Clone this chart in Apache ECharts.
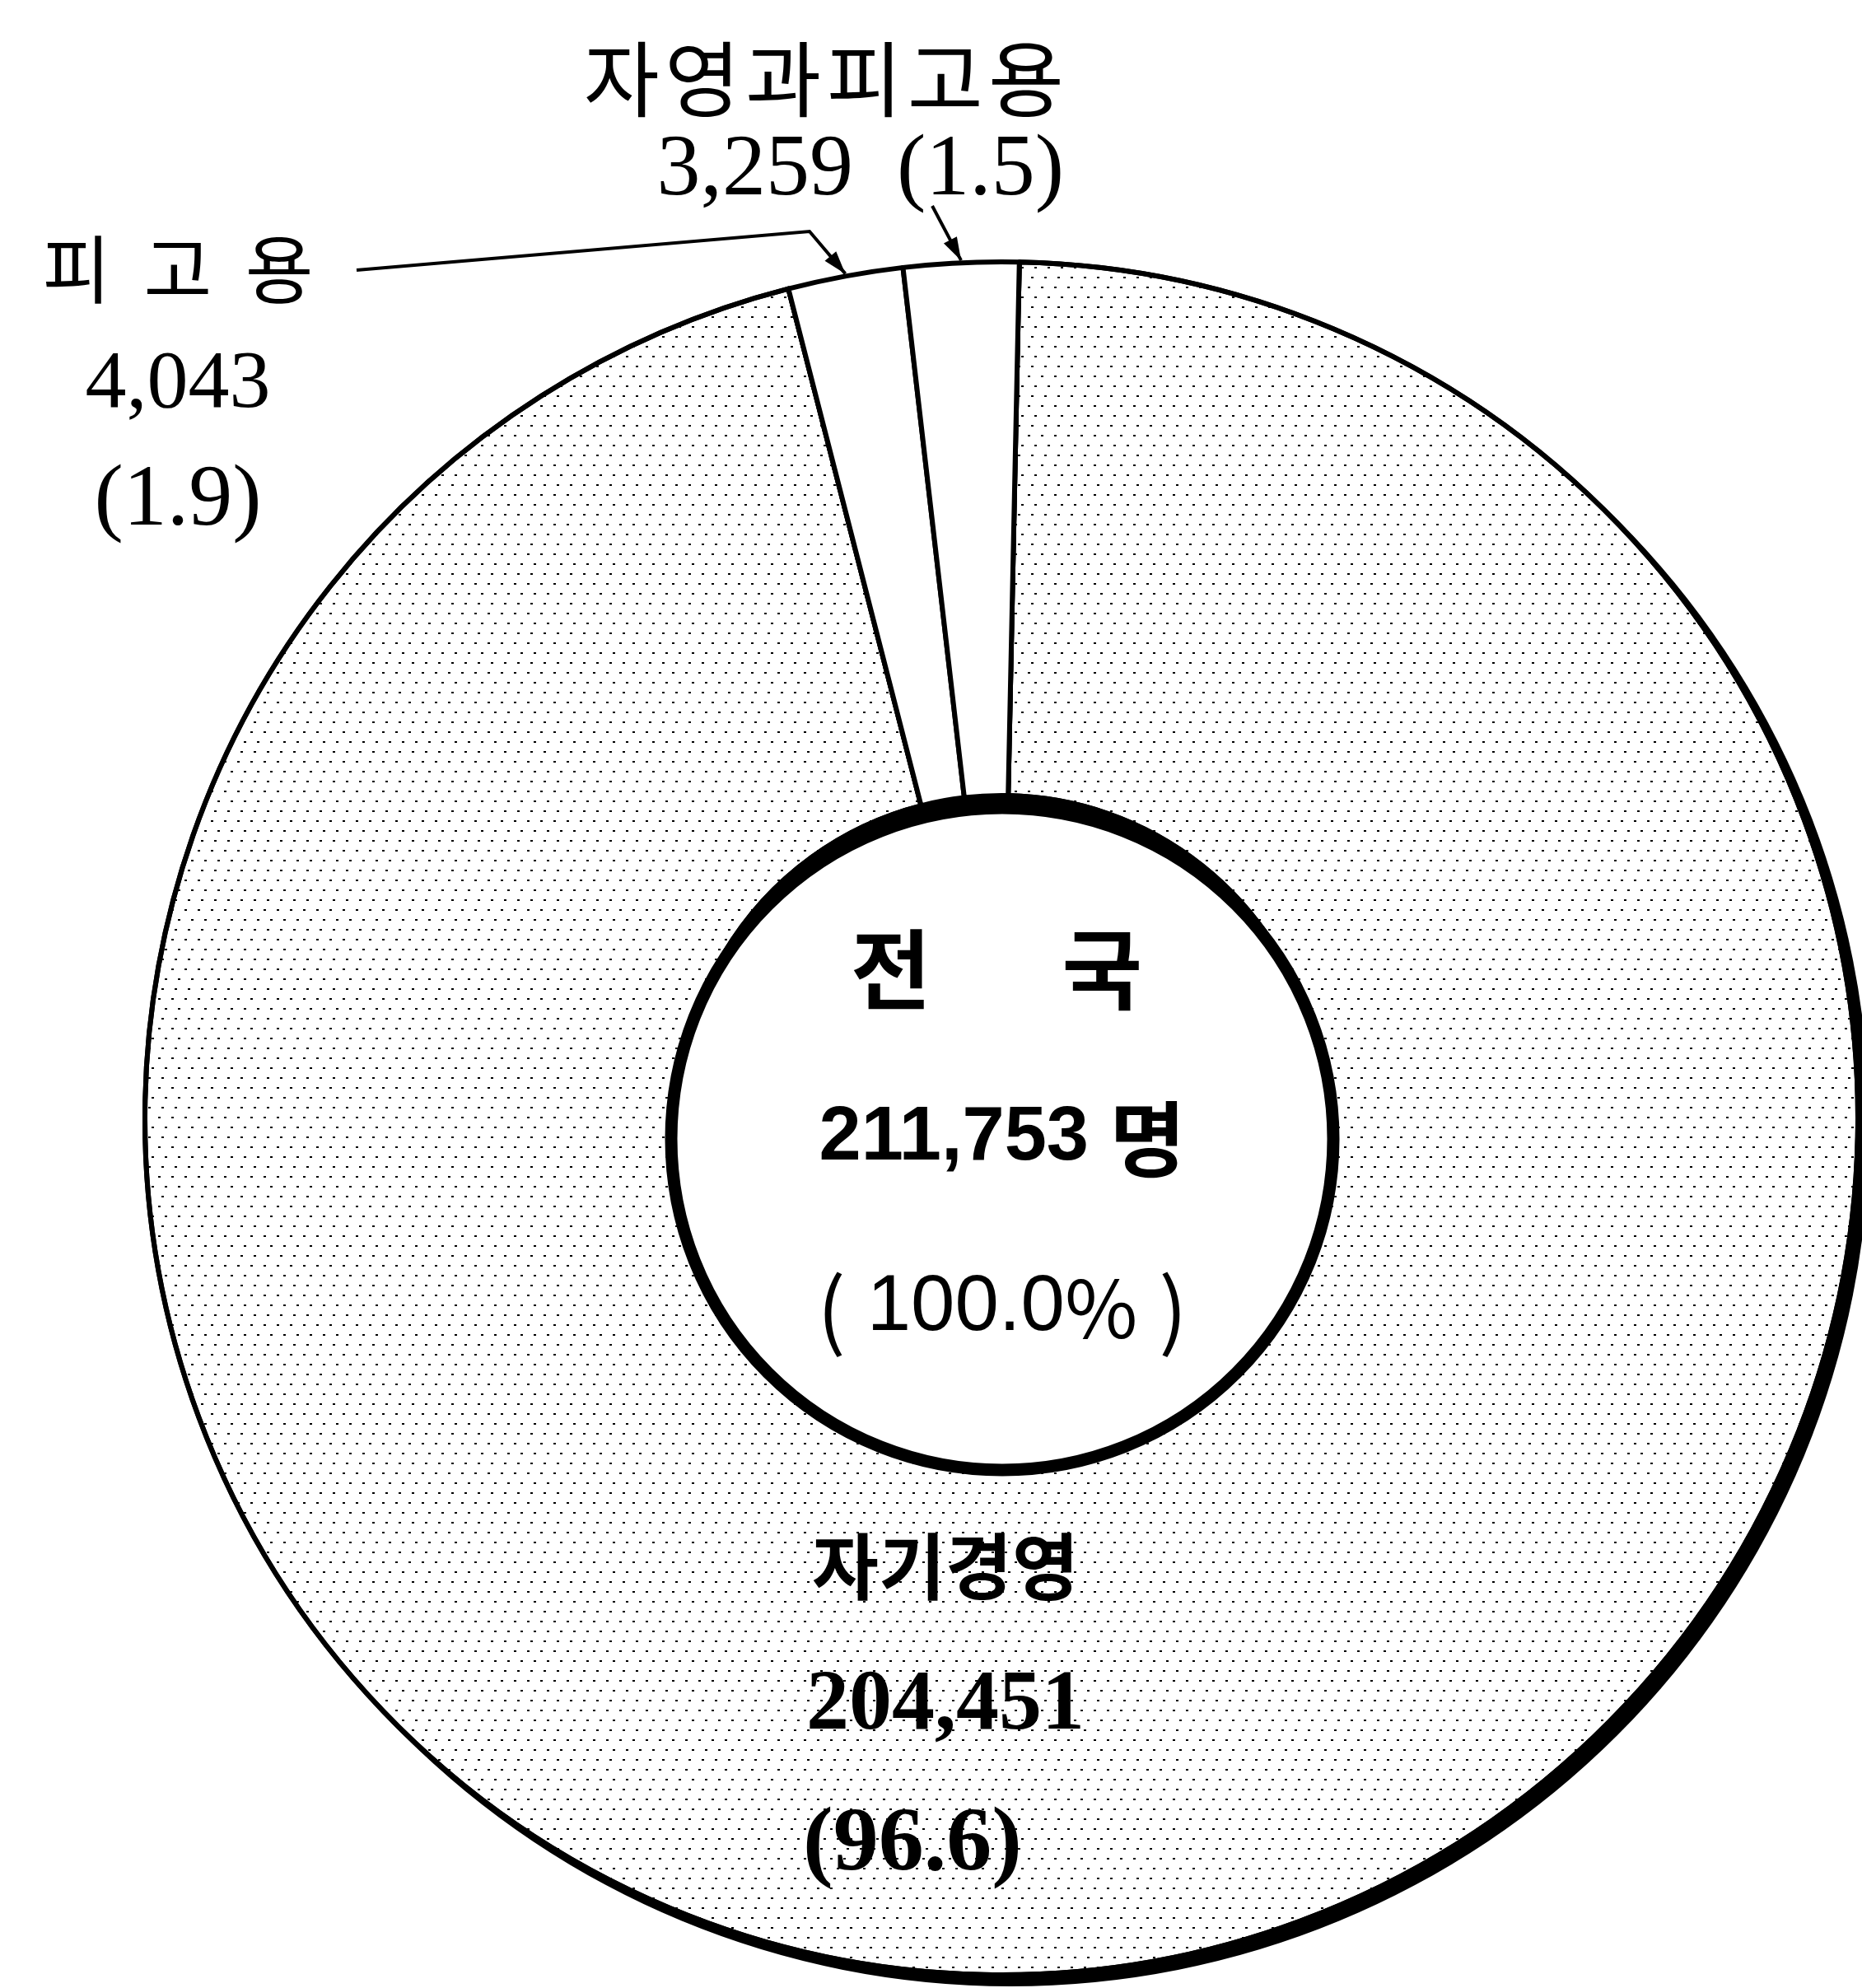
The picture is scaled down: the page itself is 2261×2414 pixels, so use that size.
<!DOCTYPE html>
<html>
<head>
<meta charset="utf-8">
<script src="https://cdn.jsdelivr.net/npm/echarts@6.0.0/dist/echarts.min.js"></script>
<style>
  html, body { margin: 0; padding: 0; background: #fff; }
  #grafico { width: 2261px; height: 2414px; }
</style>
</head>
<body>
<div id="grafico"></div>
<script>
// datos del grafico
const categorias = ['자기경영', '피고용', '자영과피고용'];
const valores = [204451, 4043, 3259];
const tituloCentro = ['전', '국'];
const unidad = '명';

(function () {
    const chart = echarts.init(document.getElementById('grafico'), null, { renderer: 'canvas' });

    const total = valores.reduce((a, b) => a + b, 0);
    const fmt = (n) => n.toLocaleString('en-US');
    const pct = (v) => (v / total * 100).toFixed(1);

    const centroAnillo = [1216, 1358];
    const radioAnillo = 1040;
    const centroDisco = [1217, 1383];
    const radioDisco = 402;

    const serif = "'Liberation Serif', 'Noto Sans CJK KR'";
    const hangul = "'Noto Sans CJK KR'";
    const sans = "'Liberation Sans', 'Noto Sans CJK KR'";

    const estilosEtiqueta = {
        nombre: { fontFamily: hangul, fontSize: 100, color: '#000', lineHeight: 113 },
        valor: { fontFamily: serif, fontSize: 106, color: '#000', lineHeight: 113 },
        nombreIzq: { fontFamily: hangul, fontSize: 90, color: '#000', lineHeight: 141 },
        valorIzq: { fontFamily: serif, fontSize: 100, color: '#000', lineHeight: 141 },
        parenIzq: { fontFamily: serif, fontSize: 106, color: '#000', lineHeight: 141 },
        nombreGrande: { fontFamily: hangul, fontSize: 88, fontWeight: 'bold', color: '#000', lineHeight: 170 },
        valorGrande: { fontFamily: serif, fontSize: 104, fontWeight: 'bold', color: '#000', lineHeight: 170 },
        parenGrande: { fontFamily: serif, fontSize: 110, fontWeight: 'bold', color: '#000', lineHeight: 170, padding: [0, 80, 0, 0] }
    };

    const formatearEtiqueta = (params) => {
        const v = params.value;
        switch (params.dataIndex) {
            case 0:
                return `{nombreGrande|${params.name}}\n{valorGrande|${fmt(v)}}\n{parenGrande|(${pct(v)})}`;
            case 1:
                return `{nombreIzq|${params.name.split('').join('  ')}}\n{valorIzq|${fmt(v)}}\n{parenIzq|(${pct(v)})}`;
            case 2:
                return `{nombre|${params.name.split('').join('\u200A')}}\n{valor|${fmt(v)}  (${pct(v)})}`;
        }
        return '';
    };

    const posicionEtiqueta = (params) => {
        switch (params.dataIndex) {
            case 0:
                return { x: 1148, y: 2072, align: 'center', verticalAlign: 'middle' };
            case 1:
                return { x: 216, y: 468, align: 'center', verticalAlign: 'middle' };
            case 2:
                return { x: 1292, y: 152, align: 'right', verticalAlign: 'middle' };
        }
        return {};
    };

    const punteado = {
        symbol: 'rect',
        symbolSize: 1,
        color: '#000',
        dashArrayX: [[3, 13], [0, 8, 3, 5], [0, 4, 3, 9]],
        dashArrayY: [2, 10]
    };

    const opciones = {
        backgroundColor: '#fff',
        animation: false,
        series: [
            {
                // sombra negra del borde exterior
                type: 'pie',
                silent: true,
                center: [centroAnillo[0] + 11, centroAnillo[1] + 11],
                radius: [0, radioAnillo + 3],
                label: { show: false },
                labelLine: { show: false },
                itemStyle: { color: '#000' },
                data: [{ value: 1 }]
            },
            {
                type: 'pie',
                silent: true,
                center: centroAnillo,
                radius: [radioDisco - 10, radioAnillo],
                startAngle: 88.8,
                clockwise: true,
                minAngle: 7.8,
                avoidLabelOverlap: false,
                itemStyle: { color: '#fff', borderColor: '#000', borderWidth: 6 },
                label: {
                    show: true,
                    position: 'inside',
                    formatter: formatearEtiqueta,
                    rich: estilosEtiqueta
                },
                labelLine: { show: false },
                labelLayout: posicionEtiqueta,
                data: categorias.map((nombre, i) => ({
                    name: nombre,
                    value: valores[i],
                    itemStyle: i === 0 ? { decal: punteado } : {}
                }))
            },
            {
                // disco central
                type: 'pie',
                silent: true,
                center: centroDisco,
                radius: [0, radioDisco],
                itemStyle: { color: '#fff', borderColor: '#000', borderWidth: 15 },
                label: {
                    show: true,
                    position: 'center',
                    formatter: () => `{a|${tituloCentro.join('\u3000\u2002')}}\n{b|${fmt(total)} }{c|${unidad}}\n{p1|(}{e|100.0}{pc|%}{p2|)}`,
                    rich: {
                        a: { fontFamily: hangul, fontSize: 106, fontWeight: 'bold', color: '#000', lineHeight: 206, padding: [0, 14, 0, 0] },
                        b: { fontFamily: sans, fontSize: 92, fontWeight: 'bold', color: '#000', lineHeight: 206 },
                        c: { fontFamily: hangul, fontSize: 100, fontWeight: 'bold', color: '#000', lineHeight: 206 },
                        p1: { fontFamily: hangul, fontSize: 102, color: '#000', lineHeight: 206, padding: [0, 26, 0, 0] },
                        p2: { fontFamily: hangul, fontSize: 102, color: '#000', lineHeight: 206, padding: [0, 0, 0, 26] },
                        pc: { fontFamily: hangul, fontSize: 96, color: '#000', lineHeight: 206 },
                        e: { fontFamily: sans, fontSize: 96, color: '#000', lineHeight: 206 }
                    }
                },
                labelLine: { show: false },
                data: [{ value: total, name: '전국' }]
            }
        ]
    };

    chart.setOption(opciones);

    // lineas guia con flecha hacia las porciones pequenas
    const dibujarGuias = () => {
        let datos = null;
        try {
            datos = chart.getModel().getSeriesByIndex(1).getData();
        } catch (e) {
            return;
        }
        const guias = [
            { indice: 1, inicio: [[433, 328], [983, 281]] },
            { indice: 2, inicio: [[1132, 250]] }
        ];
        const elementos = [];
        guias.forEach((guia) => {
            const lay = datos.getItemLayout(guia.indice);
            const ang = (lay.startAngle + lay.endAngle) / 2;
            const punta = [lay.cx + lay.r * Math.cos(ang), lay.cy + lay.r * Math.sin(ang) - 3];
            const puntos = guia.inicio.concat([punta]);
            const previo = puntos[puntos.length - 2];
            const dx = punta[0] - previo[0];
            const dy = punta[1] - previo[1];
            const largo = Math.sqrt(dx * dx + dy * dy);
            const ux = dx / largo, uy = dy / largo;
            const base = [punta[0] - ux * 28, punta[1] - uy * 28];
            elementos.push({
                type: 'polyline',
                silent: true,
                shape: { points: puntos },
                style: { stroke: '#000', lineWidth: 4, fill: null }
            });
            elementos.push({
                type: 'polygon',
                silent: true,
                shape: {
                    points: [
                        punta,
                        [base[0] - uy * 9, base[1] + ux * 9],
                        [base[0] + uy * 9, base[1] - ux * 9]
                    ]
                },
                style: { fill: '#000' }
            });
        });
        chart.setOption({ graphic: elementos });
    };

    dibujarGuias();
})();
</script>
</body>
</html>
